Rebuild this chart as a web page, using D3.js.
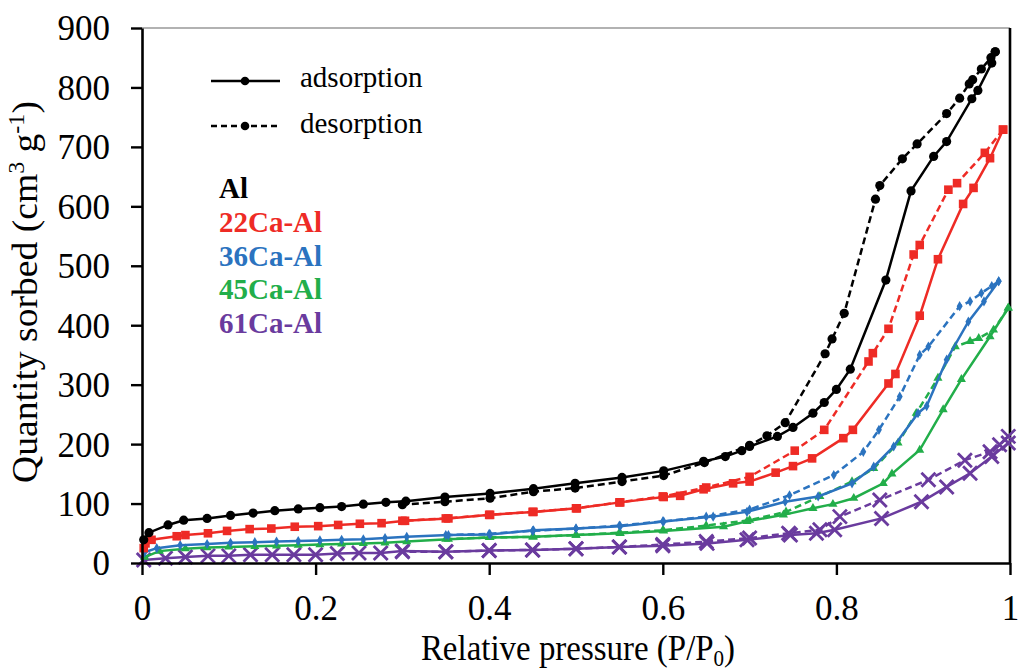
<!DOCTYPE html>
<html>
<head>
<meta charset="utf-8">
<script src="https://cdn.jsdelivr.net/npm/d3@7"></script>
<style>
  html, body { margin: 0; padding: 0; background: #fff; }
  svg { display: block; }
</style>
</head>
<body>
<svg id="chart" width="1020" height="670"></svg>
<script>
// ---------- DATA ----------
const xTicks = [0, 0.2, 0.4, 0.6, 0.8, 1];
const xTickLabels = ["0", "0.2", "0.4", "0.6", "0.8", "1"];
const yTicks = [0, 100, 200, 300, 400, 500, 600, 700, 800, 900];
const yTickLabels = ["0", "100", "200", "300", "400", "500", "600", "700", "800", "900"];

const seriesNames = ["Al", "22Ca-Al", "36Ca-Al", "45Ca-Al", "61Ca-Al"];
const seriesColors = ["#000000", "#ee2b25", "#2b73bf", "#22ae4a", "#6a3b9e"];
const seriesMarkers = ["circle", "square", "diamond", "triangle", "x"];

// Al
const alAdsX = [0.002,0.008,0.03,0.048,0.075,0.102,0.128,0.153,0.18,0.205,0.23,0.255,0.281,0.304,0.349,0.401,0.451,0.499,0.553,0.601,0.647,0.672,0.691,0.70,0.732,0.75,0.773,0.786,0.80,0.816,0.857,0.886,0.912,0.927,0.956,0.963,0.979,0.983];
const alAdsY = [39,51,64,72,75,80,84,88,91,93,95,99,102,104,111,117,125,134,144,155,171,179,189,196,213,228,252,270,292,326,476,626,684,709,781,795,841,860];
const alDesX = [0.983,0.978,0.967,0.957,0.953,0.942,0.927,0.893,0.876,0.850,0.845,0.809,0.795,0.787,0.741,0.720,0.700,0.648,0.601,0.553,0.499,0.451,0.401,0.349,0.300];
const alDesY = [860,850,831,813,806,782,756,705,680,635,612,420,377,352,236,214,198,169,147,137,126,120,109,103,98];

// 22Ca-Al
const ca22AdsX = [0.002,0.004,0.011,0.04,0.05,0.076,0.098,0.124,0.149,0.176,0.203,0.226,0.251,0.276,0.303,0.353,0.401,0.451,0.501,0.551,0.601,0.62,0.647,0.681,0.70,0.73,0.75,0.772,0.808,0.819,0.86,0.868,0.896,0.917,0.946,0.958,0.977,0.992];
const ca22AdsY = [25,33,39,45,47,50,54,57,58,61,62,64,66,67,71,75,81,86,92,102,111,113,124,134,137,152,163,176,210,224,302,318,416,511,604,631,681,729];
const ca22DesX = [0.992,0.971,0.939,0.929,0.896,0.889,0.860,0.842,0.837,0.786,0.752,0.70,0.65,0.60,0.55,0.50,0.45,0.40,0.35,0.30];
const ca22DesY = [729,690,639,628,535,519,394,353,339,224,189,145,127,112,102,92,86,81,75,71];

// 36Ca-Al
const ca36AdsX = [0.003,0.017,0.044,0.075,0.102,0.13,0.155,0.18,0.205,0.23,0.255,0.28,0.305,0.353,0.401,0.451,0.50,0.551,0.601,0.658,0.697,0.741,0.779,0.818,0.843,0.866,0.894,0.904,0.927,0.952,0.970,0.987];
const ca36AdsY = [18,25,30,32,34,35,36,37,38,39,40,42,44,47,48,55,58,62,70,78,86,103,112,134,162,196,252,264,342,406,440,474];
const ca36DesX = [0.987,0.979,0.967,0.954,0.942,0.906,0.896,0.873,0.849,0.831,0.797,0.746,0.70,0.65,0.60,0.55,0.50,0.45,0.40,0.35];
const ca36DesY = [474,466,454,440,432,364,350,280,224,187,148,114,90,78,70,63,58,54,49,47];

// 45Ca-Al
const ca45AdsX = [0.003,0.02,0.05,0.075,0.1,0.13,0.155,0.18,0.205,0.23,0.255,0.28,0.305,0.353,0.401,0.451,0.50,0.551,0.601,0.67,0.697,0.739,0.773,0.796,0.82,0.854,0.864,0.896,0.923,0.944,0.977,0.998];
const ca45AdsY = [10,20,24,26,27,28,29,30,31,32,33,34,36,40,43,44,47,50,54,61,70,81,92,99,109,134,150,190,258,309,381,429];
const ca45DesX = [0.998,0.981,0.964,0.954,0.937,0.917,0.892,0.871,0.843,0.818,0.781,0.742,0.70,0.65,0.60,0.55,0.50,0.45,0.40,0.35];
const ca45DesY = [429,392,378,373,364,311,252,202,159,137,112,86,72,63,55,51,47,44,43,40];

// 61Ca-Al
const ca61AdsX = [0.002,0.027,0.05,0.076,0.1,0.125,0.15,0.175,0.2,0.225,0.25,0.275,0.30,0.35,0.40,0.45,0.50,0.55,0.60,0.651,0.697,0.747,0.777,0.798,0.852,0.898,0.927,0.954,0.979,0.998];
const ca61AdsY = [5,8,10,12,12,14,14,14,14,16,17,17,20,19,21,22,24,27,29,33,39,47,50,56,75,103,128,151,179,202];
const ca61DesX = [0.998,0.988,0.977,0.948,0.906,0.85,0.804,0.781,0.745,0.70,0.65,0.60,0.55,0.50,0.45,0.40,0.35,0.30];
const ca61DesY = [213,199,187,173,140,106,78,56,50,42,36,31,27,24,22,21,19,19];

const adsX = [alAdsX, ca22AdsX, ca36AdsX, ca45AdsX, ca61AdsX];
const adsY = [alAdsY, ca22AdsY, ca36AdsY, ca45AdsY, ca61AdsY];
const desX = [alDesX, ca22DesX, ca36DesX, ca45DesX, ca61DesX];
const desY = [alDesY, ca22DesY, ca36DesY, ca45DesY, ca61DesY];

// ---------- LAYOUT ----------
const FONT = '"Liberation Serif", "Times New Roman", serif';
const svg = d3.select("#chart");
const mLeft = 142, mRight = 1010, mTop = 28, mBottom = 563;
const x = d3.scaleLinear().domain([0, 1]).range([mLeft, mRight]);
const y = d3.scaleLinear().domain([0, 900]).range([mBottom, mTop]);

// frame
svg.append("line").attr("x1", mLeft).attr("x2", mRight).attr("y1", mTop).attr("y2", mTop)
  .attr("stroke", "#999").attr("stroke-width", 1.5);
svg.append("line").attr("x1", mRight).attr("x2", mRight).attr("y1", mTop).attr("y2", mBottom)
  .attr("stroke", "#000").attr("stroke-width", 2.6);

function makeMarker(g, kind, color, cx, cy) {
  if (kind === "circle") {
    g.append("circle").attr("cx", cx).attr("cy", cy).attr("r", 4.6).attr("fill", color);
  } else if (kind === "square") {
    g.append("rect").attr("x", cx - 4.3).attr("y", cy - 4.3).attr("width", 8.6).attr("height", 8.6).attr("fill", color);
  } else if (kind === "diamond") {
    g.append("path").attr("transform", `translate(${cx},${cy})`)
      .attr("d", d3.symbol().type(d3.symbolDiamond).size(30)()).attr("fill", color);
  } else if (kind === "triangle") {
    g.append("path").attr("transform", `translate(${cx},${cy})`)
      .attr("d", d3.symbol().type(d3.symbolTriangle).size(36)()).attr("fill", color);
  } else if (kind === "x") {
    const s = 7;
    g.append("path").attr("d", `M${cx - s},${cy - s}L${cx + s},${cy + s}M${cx - s},${cy + s}L${cx + s},${cy - s}`)
      .attr("stroke", color).attr("stroke-width", 2.8).attr("fill", "none");
  }
}

const line = d3.line().x(d => x(d[0])).y(d => y(d[1]));
const plotG = svg.append("g");

for (let i = seriesNames.length - 1; i >= 0; i--) {
  const color = seriesColors[i];
  const g = plotG.append("g");
  const ads = adsX[i].map((v, k) => [v, adsY[i][k]]);
  const des = desX[i].map((v, k) => [v, desY[i][k]]);
  g.append("path").datum(des).attr("d", line).attr("fill", "none")
    .attr("stroke", color).attr("stroke-width", 2.5).attr("stroke-dasharray", "7,4");
  g.append("path").datum(ads).attr("d", line).attr("fill", "none")
    .attr("stroke", color).attr("stroke-width", 2.5);
  des.forEach(d => makeMarker(g, seriesMarkers[i], color, x(d[0]), y(d[1])));
  ads.forEach(d => makeMarker(g, seriesMarkers[i], color, x(d[0]), y(d[1])));
}

// axes
const xAxis = svg.append("g").attr("transform", `translate(0,${mBottom})`)
  .call(d3.axisBottom(x).tickValues(xTicks).tickFormat((d, i) => xTickLabels[i]).tickSize(12).tickSizeOuter(0));
const yAxis = svg.append("g").attr("transform", `translate(${mLeft},0)`)
  .call(d3.axisLeft(y).tickValues(yTicks).tickFormat((d, i) => yTickLabels[i]).tickSize(11).tickSizeOuter(0));
[xAxis, yAxis].forEach(a => {
  a.attr("font-family", FONT);
  a.select(".domain").attr("stroke", "#000").attr("stroke-width", 2.6);
  a.selectAll(".tick line").attr("stroke", "#000").attr("stroke-width", 2.4);
  a.selectAll(".tick text").attr("fill", "#000").attr("font-family", FONT);
});
xAxis.selectAll(".tick text").attr("font-size", 35).attr("dy", null).attr("y", 57);
yAxis.selectAll(".tick text").attr("font-size", 35).attr("x", -32).attr("dy", "0.34em");

// axis titles
svg.append("text").attr("transform", "translate(578,660) scale(0.915,1)").attr("text-anchor", "middle")
  .attr("font-family", FONT).attr("font-size", 36).attr("fill", "#000")
  .html('Relative pressure (P/P<tspan dy="6" font-size="23">0</tspan><tspan dy="-6">)</tspan>');
svg.append("text").attr("transform", "translate(37,292) rotate(-90) scale(1.045,1)").attr("text-anchor", "middle")
  .attr("font-family", FONT).attr("font-size", 36).attr("fill", "#000")
  .html('Quantity sorbed (cm<tspan dy="-13" font-size="23">3</tspan><tspan dy="13"> g</tspan><tspan dy="-13" font-size="23">-1</tspan><tspan dy="13">)</tspan>');

// legend
const lg = svg.append("g");
const styleRows = [{label: "adsorption", dash: null, yy: 81, ty: 87}, {label: "desorption", dash: "6,4", yy: 126, ty: 132.5}];
styleRows.forEach(r => {
  lg.append("line").attr("x1", 211).attr("x2", 280).attr("y1", r.yy).attr("y2", r.yy)
    .attr("stroke", "#000").attr("stroke-width", 2.5).attr("stroke-dasharray", r.dash);
  lg.append("circle").attr("cx", 245).attr("cy", r.yy).attr("r", 4.3).attr("fill", "#000");
  lg.append("text").attr("x", 300).attr("y", r.ty).attr("font-family", FONT).attr("font-size", 29)
    .attr("fill", "#000").text(r.label);
});
seriesNames.forEach((n, i) => {
  lg.append("text").attr("x", 219).attr("y", 198.3 + i * 33.6).attr("font-family", FONT)
    .attr("font-size", 29).attr("font-weight", "bold").attr("fill", seriesColors[i]).text(n);
});
</script>
</body>
</html>
